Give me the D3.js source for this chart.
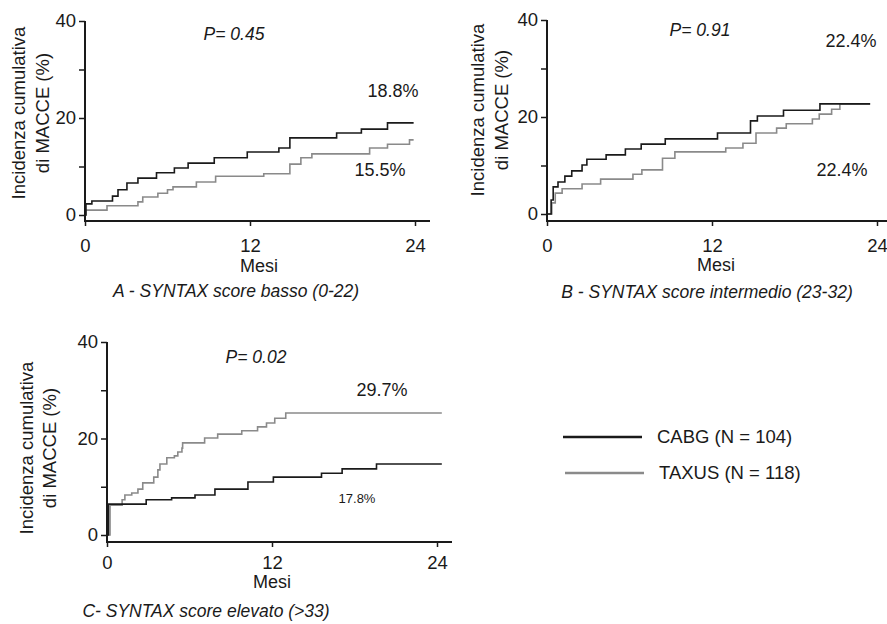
<!DOCTYPE html>
<html>
<head>
<meta charset="utf-8">
<script src="https://cdn.jsdelivr.net/npm/d3@7"></script>
<style>
body { margin: 0; background: #fff; }
text { font-family: 'Liberation Sans', Arial, Helvetica, sans-serif; fill: #1a1a1a; }
</style>
</head>
<body>
<div id="chart"></div>
<script>
var x_ticks = [0, 12, 24];
var y_ticks = [0, 10, 20, 30, 40];
var y_labelled = [0, 20, 40];

// [mese, incidenza %] - each point starts a new level of the step curve
var cabg_a = [[0, 0], [0.07, 2.3], [0.5, 2.9], [2.0, 3.9], [2.4, 5.2], [3.05, 6.6], [3.85, 7.6],
    [5.2, 8.7], [6.5, 9.7], [7.5, 10.7], [9.4, 11.8], [11.8, 13.0], [14.1, 13.8], [14.9, 15.9],
    [18.3, 16.9], [20.1, 17.7], [22.0, 19.0], [23.9, 19.0]];
var taxus_a = [[0, 0], [0.05, 1.0], [1.6, 1.9], [3.85, 2.7], [4.2, 3.7], [5.3, 4.5], [6.0, 5.2],
    [6.4, 5.8], [8.1, 6.8], [9.5, 8.0], [13.0, 8.5], [14.9, 10.5], [15.7, 11.8], [16.5, 12.6],
    [20.7, 13.8], [22.0, 14.6], [23.6, 15.5], [23.9, 15.5]];

var cabg_b = [[0, 0], [0.3, 2.9], [0.45, 5.6], [0.8, 6.6], [1.3, 7.8], [1.8, 8.9], [2.55, 10.1],
    [2.9, 11.3], [4.3, 12.2], [5.7, 13.4], [6.85, 14.4], [8.6, 15.5], [12.4, 16.7], [14.8, 19.2],
    [15.3, 20.2], [17.2, 21.4], [19.85, 22.7], [23.5, 22.7]];
var taxus_b = [[0, 0], [0.35, 2.3], [0.6, 4.3], [1.1, 5.2], [2.55, 6.2], [3.9, 7.2], [6.25, 8.2],
    [6.9, 9.1], [8.4, 11.5], [9.3, 12.8], [13.0, 13.6], [14.25, 14.6], [15.2, 16.7], [16.7, 17.7],
    [17.4, 18.6], [19.3, 19.6], [19.8, 20.6], [20.7, 21.6], [21.3, 22.7], [23.5, 22.7]];

var cabg_c = [[0, 0], [0.1, 6.4], [2.85, 7.3], [4.7, 7.7], [6.4, 8.3], [7.85, 9.5], [10.25, 11.0],
    [12.1, 12.0], [15.6, 12.8], [17.1, 13.7], [19.6, 14.7], [24.35, 14.7]];
var taxus_c = [[0, 0], [0.22, 6.2], [1.1, 7.3], [1.3, 8.3], [1.8, 8.7], [2.25, 9.5], [2.6, 10.8],
    [3.4, 12.0], [3.7, 13.5], [3.85, 14.7], [4.35, 16.0], [4.9, 16.4], [5.15, 17.2], [5.45, 18.0],
    [5.5, 19.1], [7.1, 20.1], [8.05, 20.9], [9.8, 21.6], [10.95, 22.4], [11.6, 23.2], [12.2, 24.2],
    [13.0, 25.3], [24.35, 25.3]];

var captions = ['A - SYNTAX score basso (0-22)', 'B - SYNTAX score intermedio (23-32)', 'C- SYNTAX score elevato (>33)'];
var p_values = ['P= 0.45', 'P= 0.91', 'P= 0.02'];
var legend_labels = ['CABG (N = 104)', 'TAXUS (N = 118)'];

var chart_width = 887;
var chart_height = 624;
var black = '#1a1a1a';
var grey = '#8a8a8a';

var svg = d3.select('#chart')
    .append('svg')
    .attr('width', chart_width)
    .attr('height', chart_height);

var panels = [
    { x0: 85, x24: 415, y0: 215, y40: 21, axis_y: 221, pad: 13, mesi_x: 259, mesi_y: 266,
      cap_x: 236, cap_y: 291, t1: 19, t2: 43, t_y: 113, p_x: 234, p_y: 34,
      cabg: cabg_a, taxus: taxus_a,
      pct: [['18.8%', 393, 91, 18], ['15.5%', 380, 170, 18]] },
    { x0: 547, x24: 877, y0: 214, y40: 20, axis_y: 221, pad: 13, mesi_x: 716, mesi_y: 265,
      cap_x: 707, cap_y: 292, t1: 478, t2: 502, t_y: 110, p_x: 700, p_y: 30,
      cabg: cabg_b, taxus: taxus_b,
      pct: [['22.4%', 851, 41, 18], ['22.4%', 842, 170, 18]] },
    { x0: 107, x24: 437, y0: 535, y40: 342, axis_y: 542, pad: 9, mesi_x: 272, mesi_y: 582,
      cap_x: 206, cap_y: 611, t1: 27, t2: 50, t_y: 448, p_x: 256, p_y: 357,
      cabg: cabg_c, taxus: taxus_c,
      pct: [['29.7%', 382, 390, 18], ['17.8%', 357, 498, 13]] }
];

panels.forEach(function (p, i) {
    var x_scale = d3.scaleLinear().domain([0, 24]).range([p.x0, p.x24]);
    var y_scale = d3.scaleLinear().domain([0, 40]).range([p.y0, p.y40]);
    var g = svg.append('g');

    // curves
    var line = d3.line()
        .x(function (d) { return x_scale(d[0]); })
        .y(function (d) { return y_scale(d[1]); })
        .curve(d3.curveStepAfter);

    g.append('path').datum(p.taxus)
        .attr('d', line).attr('fill', 'none')
        .attr('stroke', grey).attr('stroke-width', 1.6);
    g.append('path').datum(p.cabg)
        .attr('d', line).attr('fill', 'none')
        .attr('stroke', black).attr('stroke-width', 1.6);

    // y axis
    var y_axis = d3.axisLeft(y_scale)
        .tickValues(y_ticks)
        .tickSize(6)
        .tickPadding(3)
        .tickFormat(function (d) { return y_labelled.indexOf(d) >= 0 ? d : ''; });
    var ya = g.append('g')
        .attr('transform', 'translate(' + p.x0 + ',0)')
        .call(y_axis);
    ya.select('.domain').remove();

    var x_axis = d3.axisBottom(x_scale)
        .tickValues(x_ticks)
        .tickSize(5)
        .tickPadding(p.pad);
    var xa = g.append('g')
        .attr('transform', 'translate(0,' + p.axis_y + ')')
        .call(x_axis);
    xa.select('.domain').remove();

    [ya, xa].forEach(function (a) {
        a.attr('font-family', null).attr('font-size', null);
        a.selectAll('line').attr('stroke', black).attr('stroke-width', 1.5);
        a.selectAll('text').style('font-size', '18.5px').attr('fill', black);
    });

    g.append('line')
        .attr('x1', p.x0).attr('x2', p.x0)
        .attr('y1', p.y40).attr('y2', p.axis_y)
        .attr('stroke', black).attr('stroke-width', 2);
    g.append('line')
        .attr('x1', p.x0 - 1).attr('x2', p.x24 + 15)
        .attr('y1', p.axis_y).attr('y2', p.axis_y)
        .attr('stroke', black).attr('stroke-width', 2);

    // axis titles
    g.append('text')
        .attr('transform', 'translate(' + p.t1 + ',' + p.t_y + ') rotate(-90)')
        .attr('text-anchor', 'middle').attr('dy', '0.35em')
        .style('font-size', '18.5px')
        .text('Incidenza cumulativa');
    g.append('text')
        .attr('transform', 'translate(' + p.t2 + ',' + p.t_y + ') rotate(-90)')
        .attr('text-anchor', 'middle').attr('dy', '0.35em')
        .style('font-size', '18.5px')
        .text('di MACCE (%)');

    g.append('text')
        .attr('x', p.mesi_x).attr('y', p.mesi_y)
        .attr('text-anchor', 'middle').attr('dy', '0.35em')
        .style('font-size', '18px')
        .text('Mesi');

    g.append('text')
        .attr('x', p.cap_x).attr('y', p.cap_y)
        .attr('text-anchor', 'middle').attr('dy', '0.35em')
        .style('font-size', '17.5px').style('font-style', 'italic')
        .text(captions[i]);

    g.append('text')
        .attr('x', p.p_x).attr('y', p.p_y)
        .attr('text-anchor', 'middle').attr('dy', '0.35em')
        .style('font-size', '17.5px').style('font-style', 'italic')
        .text(p_values[i]);

    p.pct.forEach(function (t) {
        g.append('text')
            .attr('x', t[1]).attr('y', t[2])
            .attr('text-anchor', 'middle').attr('dy', '0.35em')
            .style('font-size', t[3] + 'px')
            .text(t[0]);
    });
});

// legend
var legend = svg.append('g');
[[black, 437, 563], [grey, 473, 565]].forEach(function (l, i) {
    legend.append('line')
        .attr('x1', l[2]).attr('x2', l[2] + 79)
        .attr('y1', l[1]).attr('y2', l[1])
        .attr('stroke', l[0]).attr('stroke-width', 2.6);
    legend.append('text')
        .attr('x', l[2] + 94).attr('y', l[1])
        .attr('dy', '0.35em')
        .style('font-size', '18.5px')
        .text(legend_labels[i]);
});
</script>
</body>
</html>
